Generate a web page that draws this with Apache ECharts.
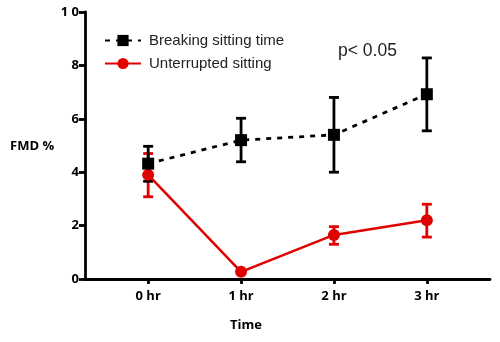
<!DOCTYPE html>
<html><head><meta charset="utf-8">
<script src="https://cdn.jsdelivr.net/npm/echarts@6/dist/echarts.min.js"></script>
<style>html,body{margin:0;padding:0;background:#fff}#c{width:500px;height:342px}</style>
</head><body><div id="c"></div>
<script>
const categories = ['0 hr', '1 hr', '2 hr', '3 hr'];
const breakingMean = [4.32, 5.2, 5.4, 6.92];
const breakingLow = [3.66, 4.39, 4.0, 5.55];
const breakingHigh = [4.97, 6.02, 6.8, 8.28];
const unintMean = [3.9, 0.27, 1.65, 2.2];
const unintLow = [3.08, 0.27, 1.3, 1.57];
const unintHigh = [4.7, 0.27, 1.96, 2.8];
const yTicks = [0, 2, 4, 6, 8, 10];

const RED = '#e00000';
const chart = echarts.init(document.getElementById('c'), null, {renderer: 'canvas'});
const idx = categories.map((_, i) => i);
function errSeries(low, high, color, z) {
  return {
    type: 'custom', z: z, silent: true,
    data: idx.map(i => [i, low[i], high[i]]),
    renderItem: function (params, api) {
      const x = api.value(0);
      const lo = api.coord([x, api.value(1)]);
      const hi = api.coord([x, api.value(2)]);
      const w = 5;
      const st = {stroke: color, lineWidth: 2.8};
      return {type: 'group', children: [
        {type: 'line', shape: {x1: lo[0], y1: lo[1], x2: hi[0], y2: hi[1]}, style: st},
        {type: 'line', shape: {x1: lo[0] - w, y1: lo[1], x2: lo[0] + w, y2: lo[1]}, style: st},
        {type: 'line', shape: {x1: hi[0] - w, y1: hi[1], x2: hi[0] + w, y2: hi[1]}, style: st}
      ]};
    }
  };
}
const fontF = '"Open Sans", "Liberation Sans", sans-serif';
const arial = '"Liberation Sans", Arial, sans-serif';
chart.setOption({
  animation: false,
  grid: {left: 85, right: 10, top: 12, bottom: 63, containLabel: false},
  xAxis: {
    type: 'value', min: -0.68, max: 3.68,
    splitLine: {show: false},
    axisLine: {onZero: false, lineStyle: {color: '#000', width: 2.8}},
    axisTick: {show: true, length: 5, lineStyle: {color: '#000', width: 2.8}, customValues: idx},
    axisLabel: {customValues: idx, formatter: v => categories[Math.round(v)] || '', color: '#000',
      fontWeight: 'bold', fontSize: 13, fontFamily: fontF, margin: 11}
  },
  yAxis: {
    type: 'value', min: 0, max: 10, interval: 2,
    splitLine: {show: false},
    axisLine: {show: true, onZero: false, lineStyle: {color: '#000', width: 2.8}},
    axisTick: {show: true, length: 6, lineStyle: {color: '#000', width: 2.8}},
    axisLabel: {formatter: v => (v === 10 ? '1 0' : String(v)), color: '#000', fontWeight: 'bold',
      fontSize: 13, fontFamily: fontF, margin: 6}
  },
  legend: {
    orient: 'vertical', left: 99, top: 28, itemWidth: 36, itemHeight: 14, itemGap: 8,
    textStyle: {fontSize: 15, color: '#222', fontFamily: arial, padding: [0, 0, 0, 3]},
    data: ['Breaking sitting time', 'Unterrupted sitting']
  },
  graphic: [
    {type: 'text', left: 338, top: 42, style: {text: 'p< 0.05', fontSize: 17.5, fill: '#222', fontFamily: arial}},
    {type: 'text', left: 10, top: 140, style: {text: 'FMD %', fontSize: 13, fontWeight: 'bold', fill: '#000',
      fontFamily: fontF}},
    {type: 'text', left: 230, top: 319, style: {text: 'Time', fontSize: 13, fontWeight: 'bold', fill: '#000',
      fontFamily: fontF}}
  ],
  series: [
    errSeries(breakingLow, breakingHigh, '#000', 3),
    errSeries(unintLow, unintHigh, RED, 2),
    {
      name: 'Unterrupted sitting', type: 'line', z: 4,
      data: idx.map(i => [i, unintMean[i]]),
      symbol: 'circle', symbolSize: 12,
      lineStyle: {color: RED, width: 2.5}, itemStyle: {color: RED}
    },
    {
      name: 'Breaking sitting time', type: 'line', z: 5,
      data: idx.map(i => [i, breakingMean[i]]),
      symbol: 'rect', symbolSize: 12,
      lineStyle: {color: '#000', width: 2.8, type: [5, 6]}, itemStyle: {color: '#000'}
    }
  ]
});
</script></body></html>
